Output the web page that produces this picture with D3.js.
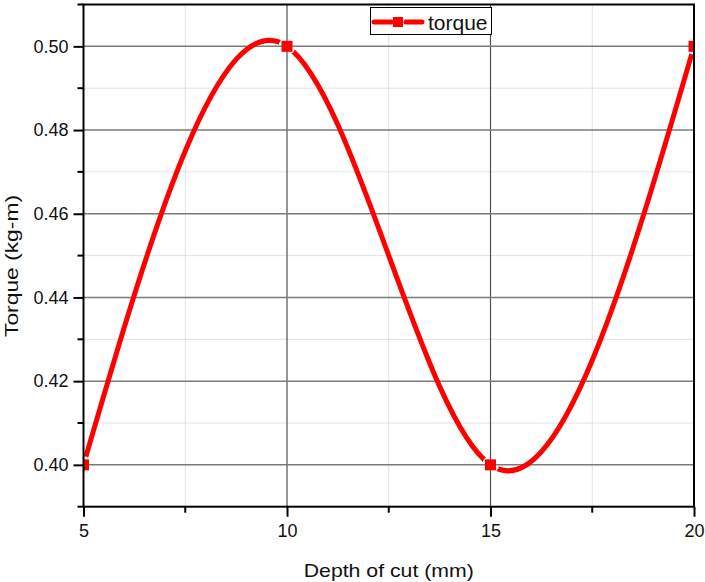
<!DOCTYPE html>
<html>
<head>
<meta charset="utf-8">
<script src="https://cdn.jsdelivr.net/npm/d3@7"></script>
<style>
  html, body { margin: 0; padding: 0; background: #fff; }
  svg { display: block; font-family: "Liberation Sans", Arial, sans-serif; }
</style>
</head>
<body>
<svg id="chart" width="705" height="582"></svg>
<script>
// Measured torque against depth of cut
const depth = [5, 10, 15, 20];
const torque = [0.40, 0.50, 0.40, 0.50];

// Axis ticks
const xMajor = [5, 10, 15, 20];
const xMinor = [7.5, 12.5, 17.5];
const yMajor = [0.40, 0.42, 0.44, 0.46, 0.48, 0.50];
const yMinor = [0.39, 0.41, 0.43, 0.45, 0.47, 0.49, 0.51];

const seriesName = "torque";
const xTitle = "Depth of cut (mm)";
const yTitle = "Torque (kg-m)";

const svg = d3.select("#chart");
const plotL = 83.5, plotR = 694, plotT = 4.5, plotB = 506.7;

const x = d3.scaleLinear().domain([5, 20]).range([plotL, plotR]);
const y = d3.scaleLinear().domain([0.39, 0.51]).range([plotB, plotT]);

const red = "#ff0000";

// clip region for the plot area
const defs = svg.append("defs");
defs.append("clipPath").attr("id", "plotClip")
  .append("rect").attr("x", plotL).attr("y", plotT)
  .attr("width", plotR - plotL).attr("height", plotB - plotT);

// gap between the line and each symbol
const mask = defs.append("mask").attr("id", "gapMask")
  .attr("maskUnits", "userSpaceOnUse")
  .attr("x", 0).attr("y", 0).attr("width", 705).attr("height", 582);
mask.append("rect").attr("width", 705).attr("height", 582).attr("fill", "#fff");
mask.selectAll("circle").data(depth).join("circle")
  .attr("cx", d => x(d))
  .attr("cy", (d, i) => y(torque[i]))
  .attr("r", 8.5)
  .attr("fill", "#000");

// minor grid
const grid = svg.append("g");
grid.selectAll("line.vmin").data(xMinor).join("line")
  .attr("class", "vmin")
  .attr("x1", d => x(d)).attr("x2", d => x(d))
  .attr("y1", plotT).attr("y2", plotB)
  .attr("stroke", "#c4c4c4").attr("stroke-width", 1)
  .attr("stroke-dasharray", "1,1");
grid.selectAll("line.hmin").data(yMinor.filter(v => v > 0.395 && v < 0.505)).join("line")
  .attr("class", "hmin")
  .attr("x1", plotL).attr("x2", plotR)
  .attr("y1", d => y(d)).attr("y2", d => y(d))
  .attr("stroke", "#c4c4c4").attr("stroke-width", 1)
  .attr("stroke-dasharray", "1,1");

// major grid
grid.selectAll("line.vmaj").data(xMajor.filter(v => v > 5 && v < 20)).join("line")
  .attr("class", "vmaj")
  .attr("x1", d => x(d)).attr("x2", d => x(d))
  .attr("y1", plotT).attr("y2", plotB)
  .attr("stroke", "#505050").attr("stroke-width", 1.2);
grid.selectAll("line.hmaj").data(yMajor).join("line")
  .attr("class", "hmaj")
  .attr("x1", plotL).attr("x2", plotR)
  .attr("y1", d => y(d)).attr("y2", d => y(d))
  .attr("stroke", "#7a7a7a").attr("stroke-width", 1.5);

// spline through the measurements
const line = d3.line()
  .x((d, i) => x(depth[i]))
  .y((d, i) => y(torque[i]))
  .curve(d3.curveNatural);

svg.append("g").attr("mask", "url(#gapMask)")
  .append("path")
  .attr("d", line(depth))
  .attr("fill", "none")
  .attr("stroke", red)
  .attr("stroke-width", 5);

// symbols
const ms = 11;
svg.append("g").attr("clip-path", "url(#plotClip)")
  .selectAll("rect").data(depth).join("rect")
  .attr("x", d => x(d) - ms / 2)
  .attr("y", (d, i) => y(torque[i]) - ms / 2)
  .attr("width", ms).attr("height", ms)
  .attr("fill", red);

// axes
const xAxis = d3.axisBottom(x).tickValues(xMajor).tickSize(10).tickPadding(8).tickFormat(d3.format("d"));
const gx = svg.append("g").attr("transform", `translate(0,${plotB})`).call(xAxis);
gx.select(".domain").remove();
gx.selectAll(".tick line").attr("stroke", "#000").attr("stroke-width", 2);
gx.selectAll(".tick text").attr("font-size", 18).attr("fill", "#111")
  .attr("font-family", "Liberation Sans, Arial, sans-serif");
gx.selectAll("line.minor").data(xMinor).join("line")
  .attr("class", "minor")
  .attr("x1", d => x(d)).attr("x2", d => x(d))
  .attr("y1", 0).attr("y2", 6)
  .attr("stroke", "#000").attr("stroke-width", 2);

const yAxis = d3.axisLeft(y).tickValues(yMajor).tickSize(10).tickPadding(5).tickFormat(d3.format(".2f"));
const gy = svg.append("g").attr("transform", `translate(${plotL},0)`).call(yAxis);
gy.select(".domain").remove();
gy.selectAll(".tick line").attr("stroke", "#000").attr("stroke-width", 2);
gy.selectAll(".tick text").attr("font-size", 18).attr("fill", "#111")
  .attr("font-family", "Liberation Sans, Arial, sans-serif");
gy.selectAll("line.minor").data(yMinor).join("line")
  .attr("class", "minor")
  .attr("x1", -6).attr("x2", 0)
  .attr("y1", d => y(d)).attr("y2", d => y(d))
  .attr("stroke", "#000").attr("stroke-width", 2);

// frame
svg.append("rect")
  .attr("x", plotL).attr("y", plotT)
  .attr("width", plotR - plotL).attr("height", plotB - plotT)
  .attr("fill", "none").attr("stroke", "#000").attr("stroke-width", 2);

// axis titles
svg.append("text")
  .attr("x", (plotL + plotR) / 2).attr("y", 577)
  .attr("text-anchor", "middle")
  .attr("font-size", 19)
  .attr("textLength", 170).attr("lengthAdjust", "spacingAndGlyphs")
  .attr("fill", "#111")
  .text(xTitle);

svg.append("text")
  .attr("transform", `translate(18,266) rotate(-90)`)
  .attr("text-anchor", "middle")
  .attr("font-size", 19)
  .attr("textLength", 142).attr("lengthAdjust", "spacingAndGlyphs")
  .attr("fill", "#111")
  .text(yTitle);

// legend
const lg = svg.append("g");
lg.append("rect")
  .attr("x", 370.5).attr("y", 7.5).attr("width", 121).attr("height", 27)
  .attr("fill", "#fff").attr("stroke", "#000").attr("stroke-width", 1);
const ly = 22;
lg.append("line").attr("x1", 374).attr("x2", 391).attr("y1", ly).attr("y2", ly)
  .attr("stroke", red).attr("stroke-width", 5).attr("stroke-linecap", "round");
lg.append("line").attr("x1", 406).attr("x2", 422).attr("y1", ly).attr("y2", ly)
  .attr("stroke", red).attr("stroke-width", 5).attr("stroke-linecap", "round");
lg.append("rect").attr("x", 393).attr("y", ly - 5).attr("width", 10).attr("height", 10)
  .attr("fill", red);
lg.append("text").attr("x", 428).attr("y", 30)
  .attr("font-size", 21).attr("fill", "#111")
  .text(seriesName);
</script>
</body>
</html>
